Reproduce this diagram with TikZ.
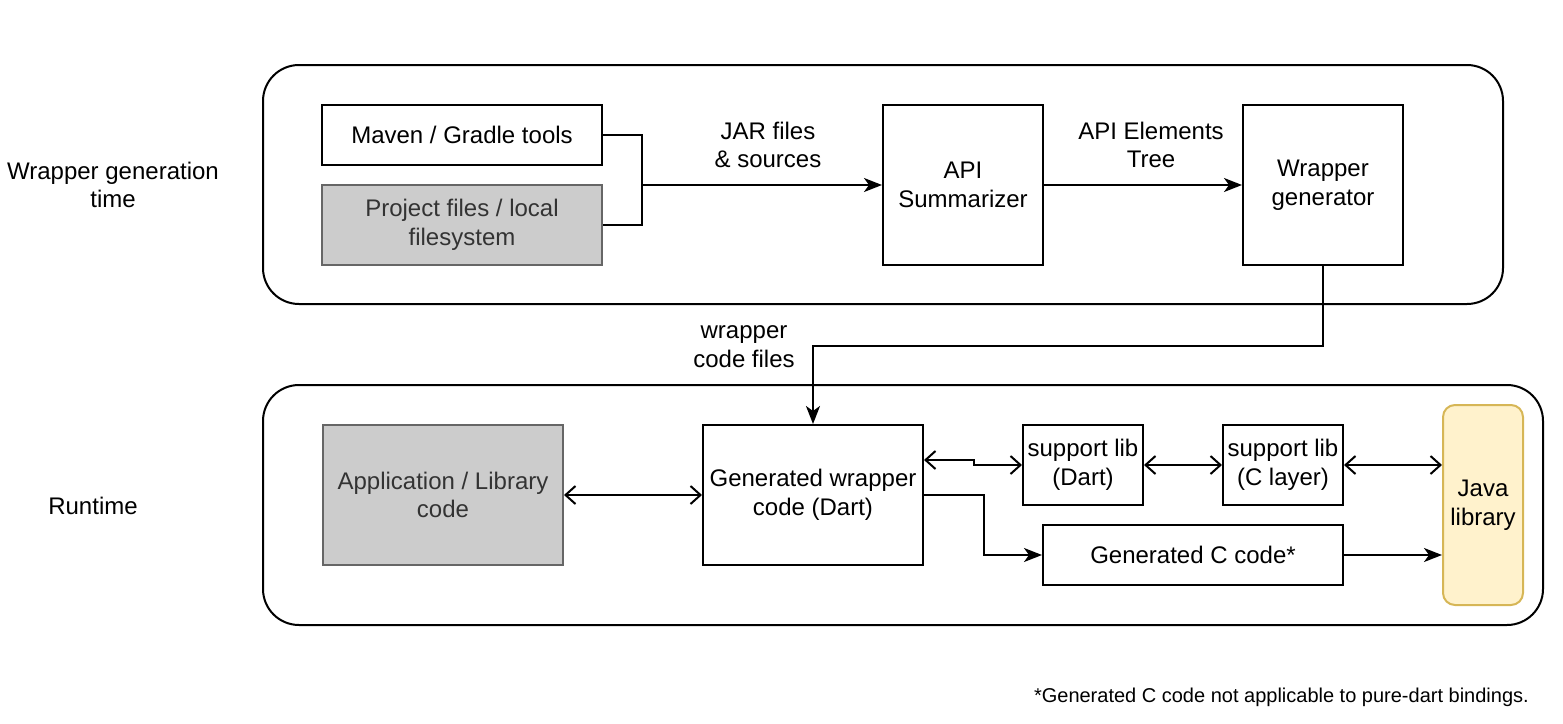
\documentclass[tikz,border=0pt]{standalone}
\usepackage{fontspec}
\setmainfont{Liberation Sans}
\usetikzlibrary{arrows.meta,calc}
\definecolor{grayfill}{HTML}{CCCCCC}
\definecolor{graystroke}{HTML}{666666}
\definecolor{graytext}{HTML}{333333}
\definecolor{javafill}{HTML}{FFF2CC}
\definecolor{javastroke}{HTML}{D6B656}
\tikzset{
  every node/.style={font=\fontsize{24}{28.8}\selectfont, align=center},
  container/.style={draw, line width=2pt, rounded corners=36pt},
  box/.style={draw, line width=2pt, fill=white, inner sep=2pt},
  graybox/.style={draw=graystroke, line width=2pt, fill=grayfill, text=graytext, inner sep=2pt},
  javabox/.style={draw=javastroke, line width=2pt, fill=javafill, rounded corners=12pt, inner sep=2pt},
  conn/.style={line width=2pt},
  fwd/.style={conn, -{Stealth[length=18pt,width=14pt,inset=5pt]}},
  both/.style={conn, {Straight Barb[length=10pt,width=18pt]}-{Straight Barb[length=10pt,width=18pt]}},
  lbl/.style={inner sep=0pt},
}
\begin{document}
\begin{tikzpicture}[x=1pt,y=-1pt]
\useasboundingbox (0,0) rectangle (1563,723);
% containers
\draw[container] (263,65) rectangle (1503,304);
\draw[container] (263,385) rectangle (1543,625);
% side labels
\node[lbl] (lgen) at (113,185) {Wrapper generation\\time};
\node[lbl] (lrun) at (93,506) {Runtime};
% top row
\node[box, minimum width=280pt, minimum height=60pt] (maven) at (462,135) {Maven / Gradle tools};
\node[graybox, minimum width=280pt, minimum height=80pt] (proj) at (462,225) {Project files / local\\filesystem};
\node[box, minimum width=160pt, minimum height=160pt] (api) at (963,185) {API\\Summarizer};
\node[box, minimum width=160pt, minimum height=160pt] (wg) at (1323,185) {Wrapper\\generator};
\coordinate (j) at (642,185);
\draw[conn] (maven.east) -| (j);
\draw[conn] (proj.east) -| (j);
\draw[fwd] (j) -- (api.west);
\node[lbl] (ljar) at (768,145) {JAR files\\\& sources};
\draw[fwd] (api.east) -- (wg.west);
\node[lbl] (lapi) at (1151,145) {API Elements\\Tree};
% bottom row
\node[graybox, minimum width=240pt, minimum height=140pt] (app) at (443,495) {Application / Library\\code};
\node[box, minimum width=220pt, minimum height=140pt] (gw) at (813,495) {Generated wrapper\\code (Dart)};
\node[box, minimum width=120pt, minimum height=80pt] (sd) at (1083,465) {support lib\\(Dart)};
\node[box, minimum width=120pt, minimum height=80pt] (sc) at (1283,465) {support lib\\(C layer)};
\node[box, minimum width=300pt, minimum height=60pt] (gc) at (1193,555) {Generated C code*};
\node[javabox, minimum width=80pt, minimum height=200pt] (java) at (1483,505) {Java\\library};
% connector from generator to wrapper code
\draw[fwd] (wg.south) -- ++(0,80) -| (gw.north);
\node[lbl] (lwc) at (744,347) {wrapper\\code files};
% runtime connectors
\draw[both] (app.east) -- (gw.west);
\draw[both] ([yshift=35pt]gw.east) -- ++(50,0) |- (sd.west);
\draw[both] (sd.east) -- (sc.west);
\draw[both] (sc.east) -- (sc.east -| java.west);
\draw[fwd] (gw.east) -- ++(60,0) |- (gc.west);
\draw[fwd] (gc.east) -- (gc.east -| java.west);
% footnote
\node[lbl, anchor=east, font=\fontsize{20}{24}\selectfont] (note) at (1529,697) {*Generated C code not applicable to pure-dart bindings.};
\end{tikzpicture}
\end{document}
